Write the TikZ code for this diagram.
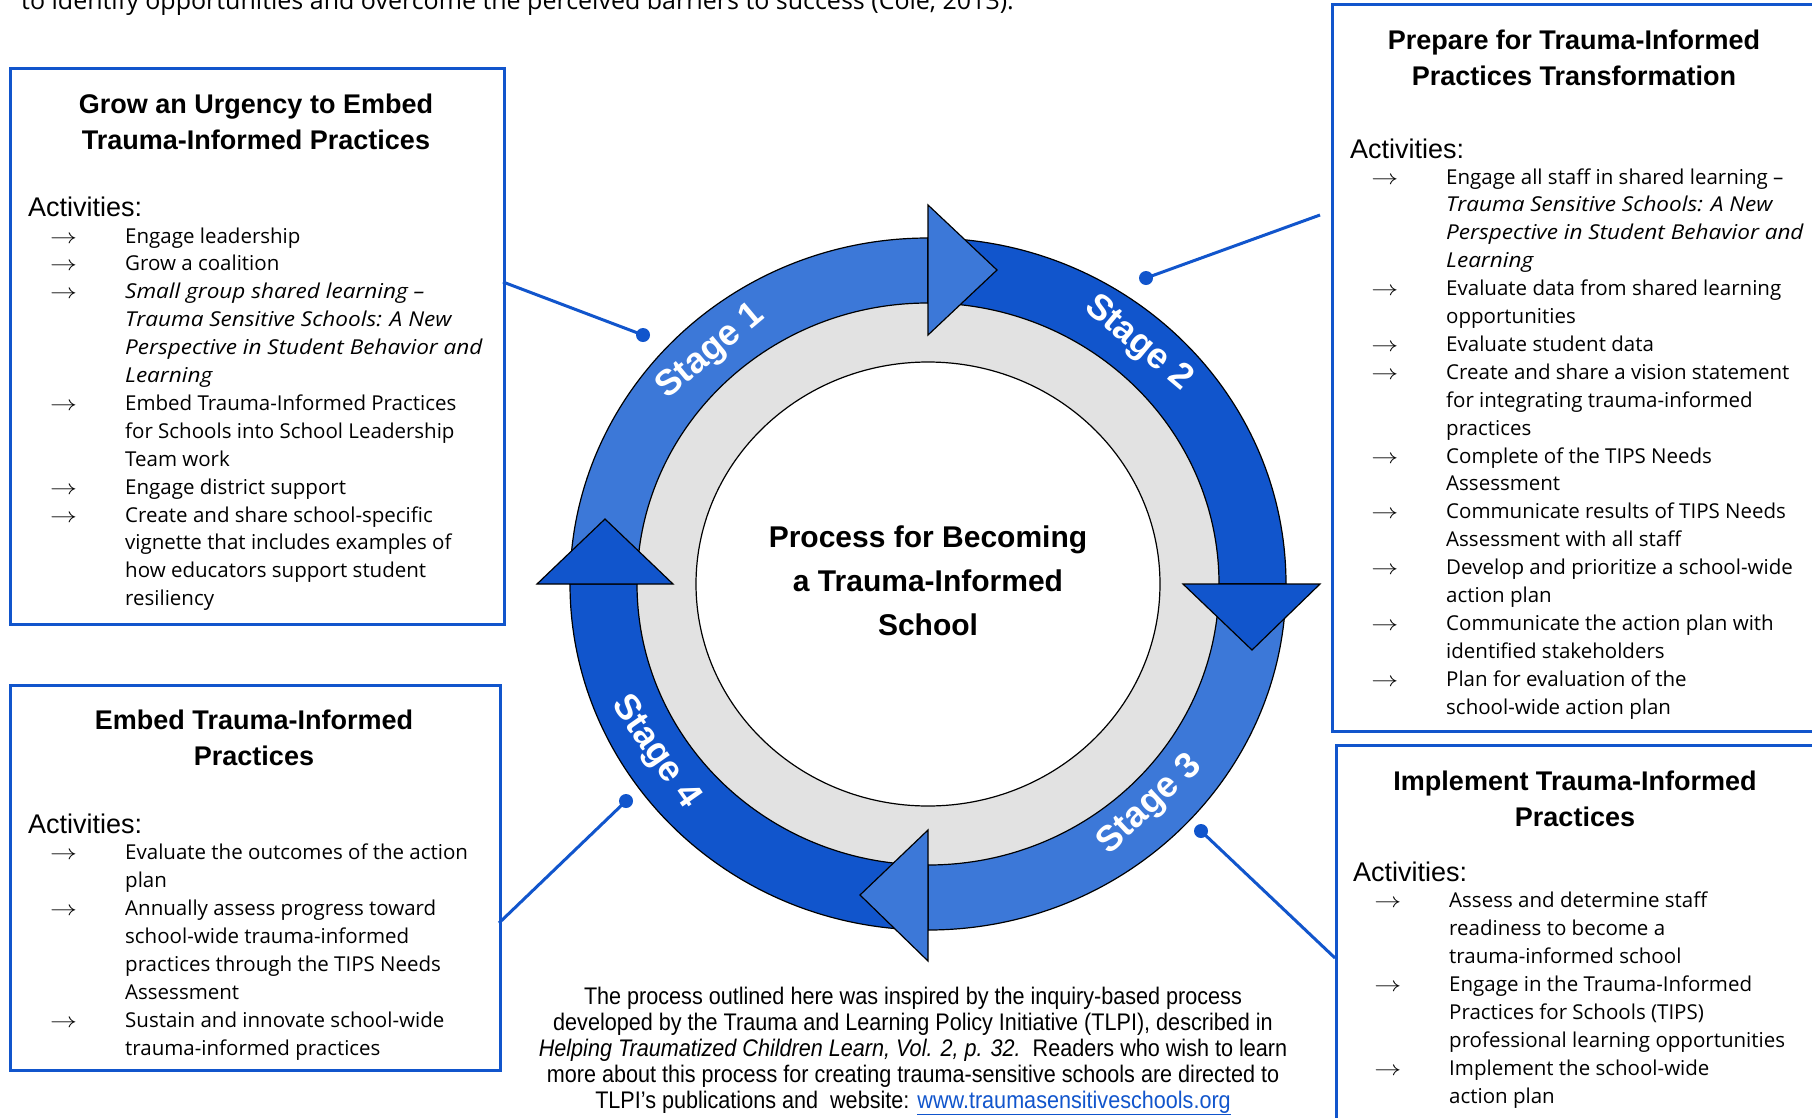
\documentclass[tikz,border=0pt]{standalone}
\usepackage{fontspec}
\usepackage{graphicx}
\setmainfont{Liberation Sans}
\newfontfamily\hand[ItalicFeatures={FakeStretch=1.1}]{Open Sans}
\newfontfamily\narrowf[FakeStretch=0.9]{Liberation Sans}
\usetikzlibrary{calc}
\definecolor{lblue}{HTML}{3C78D8}
\definecolor{dblue}{HTML}{1155CC}
\definecolor{ringgray}{HTML}{E2E2E2}
\newcommand\ar{\llap{\scalebox{1.3}[1]{$\rightarrow$}\hspace{48pt}}}
\tikzset{
  ttl/.style={font=\bfseries\fontsize{27}{32}\selectfont, anchor=base, inner sep=0pt},
  act/.style={font=\fontsize{27}{32}\selectfont, anchor=base west, inner sep=0pt},
  itm/.style={font=\hand\fontsize{20.5}{24}\selectfont, anchor=base west, inner sep=0pt},
  fn/.style={font=\narrowf\fontsize{24}{28}\selectfont, anchor=base, inner sep=0pt},
  panel/.style={draw=dblue, line width=3pt, anchor=north west, inner sep=0pt},
  pin/.style={circle, fill=dblue, inner sep=0pt, minimum size=14pt},
  conn/.style={dblue, line width=3pt},
  band/.style={draw=black, line width=1.2pt},
  stg/.style={font=\bfseries\fontsize{36}{42}\selectfont, text=white, inner sep=0pt},
  ctr/.style={font=\bfseries\fontsize{30}{36}\selectfont, anchor=base, inner sep=0pt}
}
\newcommand\bandseg[3]{%
  \filldraw[band, fill=#1] ($(C)+(#2:358pt and 346pt)$)
    arc[start angle=#2, end angle=#3, x radius=358pt, y radius=346pt]
    -- ($(C)+(#3:291pt and 281pt)$)
    arc[start angle=#3, end angle=#2, x radius=291pt, y radius=281pt] -- cycle;}
\begin{document}
\begin{tikzpicture}[x=1pt, y=1pt]
\useasboundingbox (0,0) rectangle (1812,-1117);
\fill[white] (0,0) rectangle (1812,-1117);

% top cut text
\node[anchor=base west, inner sep=0pt, font=\hand\fontsize{25}{30}\selectfont] (toptext) at (21,-9)
  {to identify opportunities and overcome the perceived barriers to success (Cole, 2013).};

% ---------- ring ----------
\coordinate (C) at (928,-584);
\fill[ringgray] (C) ellipse [x radius=291pt, y radius=281pt];
\draw[fill=white, line width=1.2pt] (C) ellipse [x radius=232pt, y radius=222pt];
\bandseg{lblue}{180}{90}
\bandseg{dblue}{90}{0}
\bandseg{lblue}{0}{-90}
\bandseg{dblue}{-90}{-180}
\filldraw[band, fill=lblue] (928,-205) -- (997,-270) -- (928,-335) -- cycle;
\filldraw[band, fill=dblue] (1183,-584) -- (1252,-650) -- (1320,-584) -- cycle;
\filldraw[band, fill=lblue] (928,-830) -- (860,-895) -- (928,-961) -- cycle;
\filldraw[band, fill=dblue] (537,-584) -- (605,-519) -- (673,-584) -- cycle;

\node[stg, rotate=40] (s1) at (711,-352) {Stage 1};
\node[stg, rotate=-40] (s2) at (1138,-344) {Stage 2};
\node[stg, rotate=43] (s3) at (1150,-805) {Stage 3};
\node[stg, rotate=-55] (s4) at (655,-752) {Stage 4};

\node[ctr] (c1) at (928,-547) {Process for Becoming};
\node[ctr] (c2) at (928,-591) {a Trauma-Informed};
\node[ctr] (c3) at (928,-635) {School};

% ---------- panels ----------
\node[panel, minimum width=494pt, minimum height=556pt] (box1) at (9,-67) {};
\node[panel, minimum width=487pt, minimum height=727pt] (box2) at (1331,-3) {};
\node[panel, minimum width=490pt, minimum height=385pt] (box3) at (9,-684) {};
\node[panel, minimum width=483pt, minimum height=400pt] (box4) at (1335,-744) {};

% box 1
\node[ttl] (t1a) at (256,-113) {Grow an Urgency to Embed};
\node[ttl] (t1b) at (256,-149) {Trauma-Informed Practices};
\node[act] (act1) at (28,-216) {Activities:};
\foreach \t [count=\i from 0] in {
  {\ar Engage leadership},
  {\ar Grow a coalition},
  {\ar\itshape Small group shared learning –},
  {\itshape Trauma Sensitive Schools: A New},
  {\itshape Perspective in Student Behavior and},
  {\itshape Learning},
  {\ar Embed Trauma-Informed Practices},
  {for Schools into School Leadership},
  {Team work},
  {\ar Engage district support},
  {\ar Create and share school-specific},
  {vignette that includes examples of},
  {how educators support student},
  {resiliency}}
  \node[itm] (a\i) at (125,{-243-27.9*\i}) {\t};

% box 2
\node[ttl] (t2a) at (1574,-49) {Prepare for Trauma-Informed};
\node[ttl] (t2b) at (1574,-85) {Practices Transformation};
\node[act] (act2) at (1350,-158) {Activities:};
\foreach \t [count=\i from 0] in {
  {\ar Engage all staff in shared learning –},
  {\itshape Trauma Sensitive Schools: A New},
  {\itshape Perspective in Student Behavior and},
  {\itshape Learning},
  {\ar Evaluate data from shared learning},
  {opportunities},
  {\ar Evaluate student data},
  {\ar Create and share a vision statement},
  {for integrating trauma-informed},
  {practices},
  {\ar Complete of the TIPS Needs},
  {Assessment},
  {\ar Communicate results of TIPS Needs},
  {Assessment with all staff},
  {\ar Develop and prioritize a school-wide},
  {action plan},
  {\ar Communicate the action plan with},
  {identified stakeholders},
  {\ar Plan for evaluation of the},
  {school-wide action plan}}
  \node[itm] (b\i) at (1446,{-184-27.9*\i}) {\t};

% box 3
\node[ttl] (t3a) at (254,-729) {Embed Trauma-Informed};
\node[ttl] (t3b) at (254,-765) {Practices};
\node[act] (act3) at (28,-833) {Activities:};
\foreach \t [count=\i from 0] in {
  {\ar Evaluate the outcomes of the action},
  {plan},
  {\ar Annually assess progress toward},
  {school-wide trauma-informed},
  {practices through the TIPS Needs},
  {Assessment},
  {\ar Sustain and innovate school-wide},
  {trauma-informed practices}}
  \node[itm] (e\i) at (125,{-859-28*\i}) {\t};

% box 4
\node[ttl] (t4a) at (1575,-790) {Implement Trauma-Informed};
\node[ttl] (t4b) at (1575,-826) {Practices};
\node[act] (act4) at (1353,-881) {Activities:};
\foreach \t [count=\i from 0] in {
  {\ar Assess and determine staff},
  {readiness to become a},
  {trauma-informed school},
  {\ar Engage in the Trauma-Informed},
  {Practices for Schools (TIPS)},
  {professional learning opportunities},
  {\ar Implement the school-wide},
  {action plan}}
  \node[itm] (g\i) at (1449,{-907-28*\i}) {\t};

% ---------- connectors ----------
\node[pin] (p1) at (643,-335) {};
\node[pin] (p2) at (1146,-278) {};
\node[pin] (p3) at (1201,-831) {};
\node[pin] (p4) at (626,-801) {};
\coordinate (e1) at (503,-282);
\coordinate (e2) at (1320,-215);
\coordinate (e3) at (1335,-958);
\coordinate (e4) at (499,-923);
\draw[conn] (e1) -- (p1.center);
\draw[conn] (p2.center) -- (e2);
\draw[conn] (p3.center) -- (e3);
\draw[conn] (p4.center) -- (e4);

% ---------- footnote ----------
\node[fn] (f1) at (913,-1004) {The process outlined here was inspired by the inquiry-based process};
\node[fn] (f2) at (913,-1030) {developed by the Trauma and Learning Policy Initiative (TLPI), described in};
\node[fn] (f3) at (913,-1056) {{\itshape Helping Traumatized Children Learn, Vol. 2, p. 32.}\ \ Readers who wish to learn};
\node[fn] (f4) at (913,-1082) {more about this process for creating trauma-sensitive schools are directed to};
\node[fn] (f5) at (913,-1108) {TLPI’s publications and\ \ website: {\color{dblue}\underline{www.traumasensitiveschools.org}}};
\end{tikzpicture}
\end{document}
